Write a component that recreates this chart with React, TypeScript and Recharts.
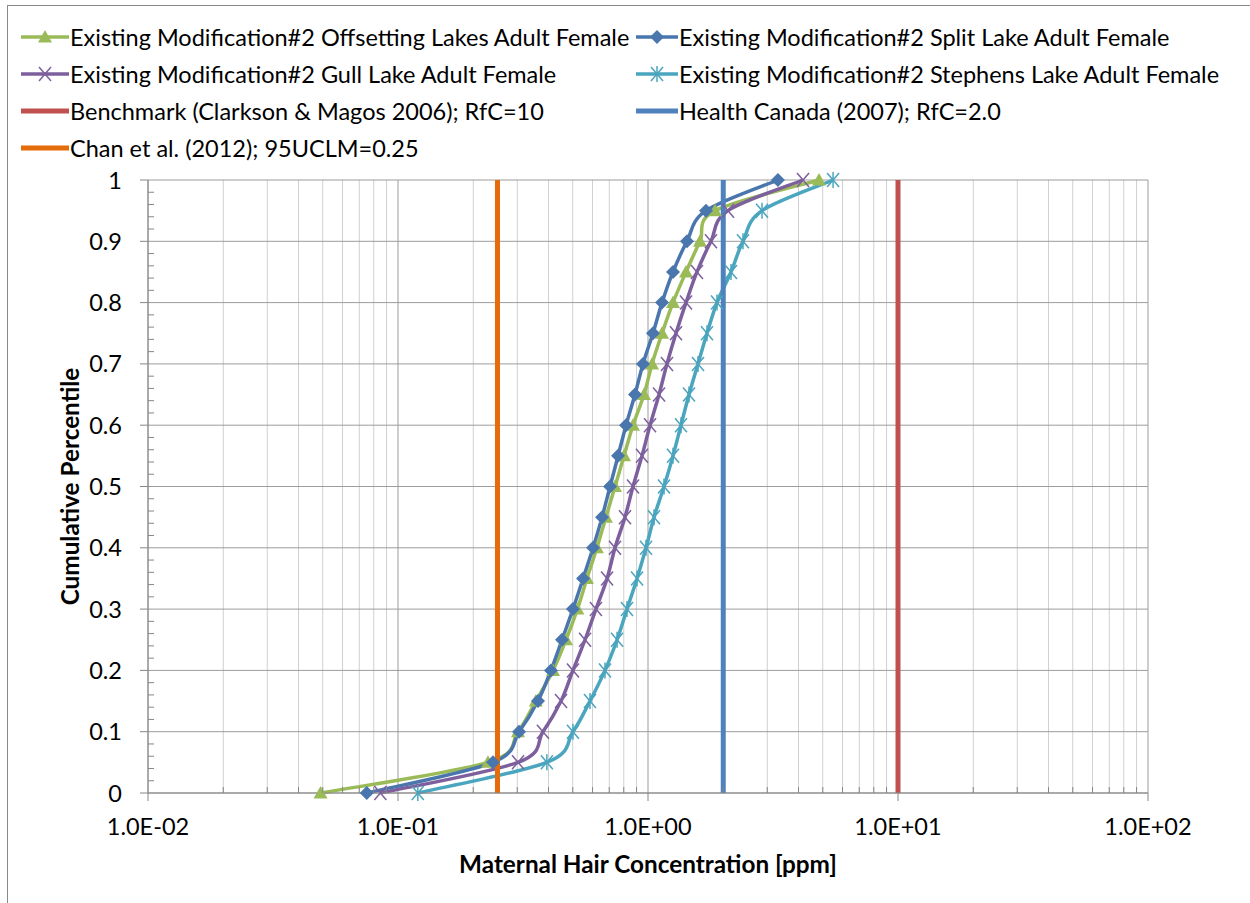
import React from "react";
import { LineChart, Line, XAxis, YAxis, CartesianGrid } from "recharts";

// cumulative percentile of each point (y)
const percentiles = [0, 0.05, 0.1, 0.15, 0.2, 0.25, 0.3, 0.35, 0.4, 0.45, 0.5, 0.55, 0.6, 0.65, 0.7, 0.75, 0.8, 0.85, 0.9, 0.95, 1];

// maternal hair concentration [ppm]
const offsettingConc = [0.049, 0.229, 0.302, 0.356, 0.417, 0.47, 0.522, 0.57, 0.625, 0.679, 0.738, 0.802, 0.871, 0.964, 1.038, 1.138, 1.259, 1.419, 1.614, 1.854, 4.83];
const splitConc = [0.075, 0.24, 0.305, 0.363, 0.409, 0.453, 0.501, 0.55, 0.603, 0.655, 0.705, 0.759, 0.817, 0.887, 0.955, 1.047, 1.138, 1.259, 1.432, 1.706, 3.31];
const gullConc = [0.085, 0.302, 0.38, 0.449, 0.501, 0.56, 0.619, 0.686, 0.738, 0.809, 0.871, 0.946, 1.019, 1.107, 1.191, 1.294, 1.419, 1.57, 1.786, 2.089, 4.17];
const stephensConc = [0.12, 0.394, 0.501, 0.586, 0.673, 0.752, 0.824, 0.904, 0.982, 1.057, 1.159, 1.259, 1.355, 1.459, 1.585, 1.722, 1.888, 2.148, 2.399, 2.858, 5.5];

// reference values
const benchmarkRfC = 10;
const healthCanadaRfC = 2.0;
const chanUCLM = 0.25;
const refSpan = [0, 1];

const xMajorTicks = [0.01, 0.1, 1, 10, 100];
const xTickLabels = ["1.0E-02", "1.0E-01", "1.0E+00", "1.0E+01", "1.0E+02"];
const xMinorTicks = [
  0.02, 0.03, 0.04, 0.05, 0.06, 0.07, 0.08, 0.09,
  0.2, 0.3, 0.4, 0.5, 0.6, 0.7, 0.8, 0.9,
  2, 3, 4, 5, 6, 7, 8, 9,
  20, 30, 40, 50, 60, 70, 80, 90,
];
const yMajorTicks = [0, 0.1, 0.2, 0.3, 0.4, 0.5, 0.6, 0.7, 0.8, 0.9, 1];
const yTickLabels = ["0", "0.1", "0.2", "0.3", "0.4", "0.5", "0.6", "0.7", "0.8", "0.9", "1"];
const yMinorTicks = [
  0.02, 0.04, 0.06, 0.08, 0.12, 0.14, 0.16, 0.18, 0.22, 0.24, 0.26, 0.28,
  0.32, 0.34, 0.36, 0.38, 0.42, 0.44, 0.46, 0.48, 0.52, 0.54, 0.56, 0.58,
  0.62, 0.64, 0.66, 0.68, 0.72, 0.74, 0.76, 0.78, 0.82, 0.84, 0.86, 0.88,
  0.92, 0.94, 0.96, 0.98,
];

const FONT = "Lato, 'Noto Sans', sans-serif";
const AXIS = "#868686";

const toPoints = (conc: number[]) => conc.map((x, i) => ({ x, y: percentiles[i] }));
const vertical = (v: number) => refSpan.map((y) => ({ x: v, y }));

// spreadsheet-style smoothed line (Catmull-Rom through the points)
const smoothCurve = (context: any) => {
  let pts: number[][] = [];
  return {
    areaStart() {},
    areaEnd() {},
    lineStart() {
      pts = [];
    },
    lineEnd() {
      const n = pts.length;
      if (!n) return;
      context.moveTo(pts[0][0], pts[0][1]);
      for (let i = 0; i < n - 1; i++) {
        const p0 = pts[i - 1] || pts[i];
        const p1 = pts[i];
        const p2 = pts[i + 1];
        const p3 = pts[i + 2] || p2;
        context.bezierCurveTo(
          p1[0] + (p2[0] - p0[0]) / 6,
          p1[1] + (p2[1] - p0[1]) / 6,
          p2[0] - (p3[0] - p1[0]) / 6,
          p2[1] - (p3[1] - p1[1]) / 6,
          p2[0],
          p2[1],
        );
      }
    },
    point(x: number, y: number) {
      pts.push([+x, +y]);
    },
  };
};

type Marker = "triangle" | "diamond" | "x" | "star" | "none";

function MarkerShape({ kind, cx, cy, color }: { kind: Marker; cx: number; cy: number; color: string }) {
  if (kind === "triangle") {
    return <polygon points={`${cx},${cy - 7} ${cx - 7},${cy + 5.5} ${cx + 7},${cy + 5.5}`} fill={color} />;
  }
  if (kind === "diamond") {
    return <polygon points={`${cx},${cy - 7} ${cx + 7},${cy} ${cx},${cy + 7} ${cx - 7},${cy}`} fill={color} />;
  }
  if (kind === "x") {
    return (
      <g stroke={color} strokeWidth={1.5}>
        <line x1={cx - 6} y1={cy - 7} x2={cx + 6} y2={cy + 7} />
        <line x1={cx - 6} y1={cy + 7} x2={cx + 6} y2={cy - 7} />
      </g>
    );
  }
  if (kind === "star") {
    return (
      <g stroke={color} strokeWidth={1.5}>
        <line x1={cx - 6} y1={cy - 7} x2={cx + 6} y2={cy + 7} />
        <line x1={cx - 6} y1={cy + 7} x2={cx + 6} y2={cy - 7} />
        <line x1={cx} y1={cy - 8} x2={cx} y2={cy + 8} />
      </g>
    );
  }
  return null;
}

const dotFor = (kind: Marker, color: string) => (props: any) => {
  const { cx, cy, index } = props;
  if (cx == null || cy == null) return <g key={index} />;
  return (
    <g key={`${kind}-${index}`}>
      <MarkerShape kind={kind} cx={cx} cy={cy} color={color} />
    </g>
  );
};

const series = [
  { name: "Existing Modification#2 Offsetting Lakes Adult Female", conc: offsettingConc, color: "#9BBB59", marker: "triangle" as Marker },
  { name: "Existing Modification#2 Split Lake Adult Female", conc: splitConc, color: "#4A76AE", marker: "diamond" as Marker },
  { name: "Existing Modification#2 Gull Lake Adult Female", conc: gullConc, color: "#7D5F9E", marker: "x" as Marker },
  { name: "Existing Modification#2 Stephens Lake Adult Female", conc: stephensConc, color: "#4AA5BE", marker: "star" as Marker },
];

const refLines = [
  { name: "Benchmark (Clarkson & Magos 2006); RfC=10", value: benchmarkRfC, color: "#C0504D" },
  { name: "Health Canada (2007); RfC=2.0", value: healthCanadaRfC, color: "#4F81BD" },
  { name: "Chan et al. (2012); 95UCLM=0.25", value: chanUCLM, color: "#E46C0A" },
];

const legendItems = [
  ...series.map((s) => ({ name: s.name, color: s.color, marker: s.marker, thick: false })),
  ...refLines.map((r) => ({ name: r.name, color: r.color, marker: "none" as Marker, thick: true })),
];

function XTick(props: any) {
  const { x, y, payload } = props;
  const i = xMajorTicks.indexOf(payload.value);
  if (i < 0) {
    return <line x1={x} y1={y} x2={x} y2={y - 6} stroke={AXIS} />;
  }
  return (
    <g>
      <line x1={x} y1={y} x2={x} y2={y + 8} stroke={AXIS} />
      <text x={x} y={y + 42} textAnchor="middle" fontFamily={FONT} fontSize={23.5} fill="#000">
        {xTickLabels[i]}
      </text>
    </g>
  );
}

function YTick(props: any) {
  const { x, y, payload } = props;
  const i = yMajorTicks.indexOf(payload.value);
  if (i < 0) {
    return <line x1={x} y1={y} x2={x + 6} y2={y} stroke={AXIS} />;
  }
  return (
    <g>
      <line x1={x - 8} y1={y} x2={x} y2={y} stroke={AXIS} />
      <text x={x - 26} y={y + 8.5} textAnchor="end" fontFamily={FONT} fontSize={23.5} fill="#000">
        {yTickLabels[i]}
      </text>
    </g>
  );
}

function LegendIcon({ color, marker, thick, width }: { color: string; marker: Marker; thick: boolean; width: number }) {
  return (
    <svg width={width} height={18} style={{ display: "block" }}>
      <line x1={0} y1={9} x2={width} y2={9} stroke={color} strokeWidth={thick ? 5 : 3.5} />
      <MarkerShape kind={marker} cx={width / 2} cy={9} color={color} />
    </svg>
  );
}

export default function App() {
  return (
    <div style={{ position: "relative", width: 1250, height: 903, background: "#fff", overflow: "hidden" }}>
      <style>{"body{margin:0}"}</style>
      <div style={{ position: "absolute", left: 7, top: 5, width: 1300, height: 960, border: "1px solid #898989" }} />

      {legendItems.map((item, i) => {
        const col = i < 6 ? i % 2 : 0;
        const row = Math.floor(i / 2);
        return (
          <div
            key={item.name}
            style={{
              position: "absolute",
              left: col === 0 ? 21 : 636,
              top: 23 + row * 37,
              display: "flex",
              alignItems: "center",
              fontFamily: FONT,
              fontSize: 23.5,
              lineHeight: "28px",
              color: "#000",
              whiteSpace: "nowrap",
            }}
          >
            <LegendIcon color={item.color} marker={item.marker} thick={item.thick} width={col === 0 ? 48 : 42} />
            <span style={{ marginLeft: 1 }}>{item.name}</span>
          </div>
        );
      })}

      <div style={{ position: "absolute", left: 0, top: 0 }}>
        <LineChart width={1250} height={903} margin={{ top: 180, right: 102, bottom: 0, left: 0 }}>
          <CartesianGrid horizontal={false} verticalValues={xMinorTicks} stroke="#D0D0D0" />
          <CartesianGrid verticalValues={xMajorTicks} horizontalValues={yMajorTicks} stroke="#9C9C9C" />
          <XAxis
            dataKey="x"
            type="number"
            scale="log"
            domain={[0.01, 100]}
            allowDataOverflow
            ticks={[...xMajorTicks, ...xMinorTicks]}
            interval={0}
            height={110}
            tickSize={0}
            tickMargin={0}
            tickLine={false}
            tick={<XTick />}
            stroke={AXIS}
            label={{
              value: "Maternal Hair Concentration [ppm]",
              position: "insideBottom",
              offset: 30,
              style: { fontFamily: FONT, fontSize: 24.3, fontWeight: 700, fill: "#000" },
            }}
          />
          <YAxis
            dataKey="y"
            type="number"
            domain={[0, 1]}
            ticks={[...yMajorTicks, ...yMinorTicks]}
            interval={0}
            width={148}
            tickSize={0}
            tickMargin={0}
            tickLine={false}
            tick={<YTick />}
            stroke={AXIS}
            label={{
              value: "Cumulative Percentile",
              angle: -90,
              position: "center",
              dx: -4,
              style: { fontFamily: FONT, fontSize: 24.3, fontWeight: 700, fill: "#000" },
            }}
          />
          {series.map((s) => (
            <Line
              key={s.name}
              data={toPoints(s.conc)}
              dataKey="y"
              name={s.name}
              type={smoothCurve as any}
              stroke={s.color}
              strokeWidth={3.5}
              dot={dotFor(s.marker, s.color)}
              activeDot={false}
              isAnimationActive={false}
            />
          ))}
          {refLines.map((r) => (
            <Line
              key={r.name}
              data={vertical(r.value)}
              dataKey="y"
              name={r.name}
              type="linear"
              stroke={r.color}
              strokeWidth={5}
              dot={false}
              activeDot={false}
              isAnimationActive={false}
            />
          ))}
        </LineChart>
      </div>
    </div>
  );
}
